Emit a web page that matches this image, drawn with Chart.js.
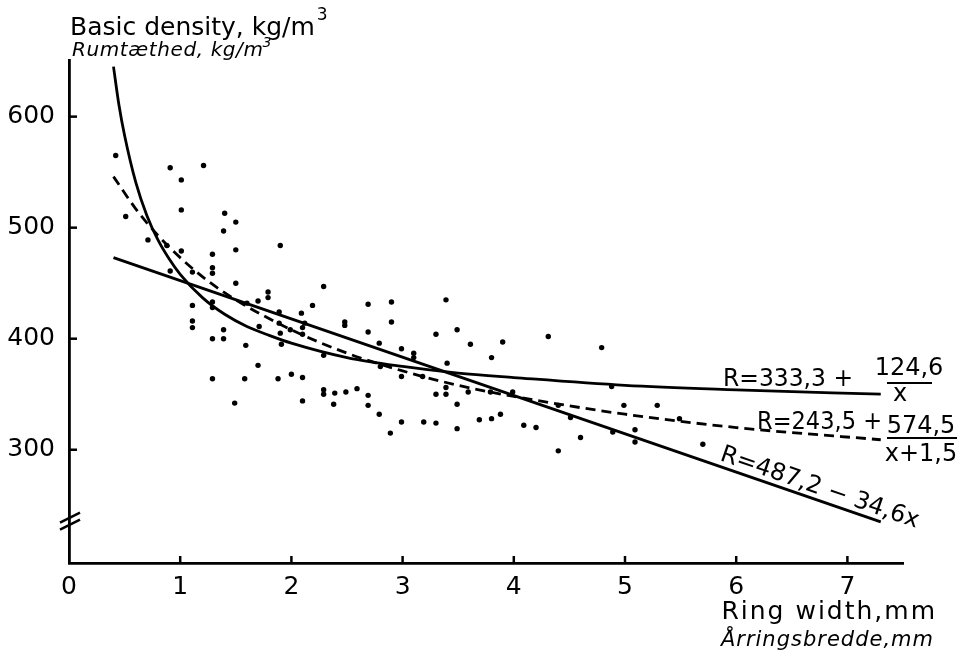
<!DOCTYPE html>
<html>
<head>
<meta charset="utf-8">
<script src="https://cdn.jsdelivr.net/npm/chart.js@4"></script>
<style>
  html, body { margin: 0; padding: 0; background: #fff; }
  canvas { display: block; }
</style>
</head>
<body>
<canvas id="density-chart" width="967" height="658"></canvas>
<script>
// measured samples: ring width (mm) vs basic density (kg/m3)
const SAMPLE_WIDTH = [
  0.42, 0.91, 1.21, 1.01, 0.51, 1.01, 1.40, 1.50, 1.39, 0.71, 0.88, 1.01, 1.29, 1.50, 1.90, 0.91, 1.11, 1.29, 1.29, 1.50,
  1.79, 1.79, 2.19, 1.11, 1.29, 1.29, 1.60, 1.70, 1.89, 2.09, 2.12, 1.11, 1.11, 1.39, 1.39, 1.29, 1.71, 1.89, 1.90, 1.91,
  1.99, 2.10, 1.59, 1.70, 1.29, 1.58, 1.88, 2.00, 2.10, 1.49, 2.10, 2.29, 2.69, 2.90, 3.39, 2.48, 2.48, 2.69, 2.90, 3.30,
  3.49, 3.61, 3.90, 4.31, 3.80, 3.40, 2.79, 2.99, 3.10, 3.10, 2.29, 2.80, 2.99, 3.18, 2.29, 2.29, 2.39, 2.49, 2.59, 2.69,
  2.69, 2.38, 2.79, 2.89, 2.99, 3.19, 3.30, 3.30, 3.39, 3.39, 3.49, 3.49, 3.59, 3.69, 3.80, 3.88, 3.79, 3.99, 4.09, 4.20,
  4.40, 4.40, 4.79, 4.88, 4.99, 5.29, 5.49, 4.51, 4.60, 5.09, 5.09, 5.70, 4.89, 2.10
];
const SAMPLE_DENSITY = [
  565, 554, 556, 543, 510, 516, 513, 505, 497, 489, 484, 479, 476, 480, 484, 461, 460, 464, 459, 450,
  442, 437, 430, 430, 433, 428, 432, 434, 424, 423, 414, 416, 410, 408, 400, 400, 411, 414, 405, 395,
  408, 404, 394, 376, 364, 364, 364, 368, 365, 342, 344, 447, 431, 433, 435, 415, 412, 406, 415, 404,
  408, 395, 397, 402, 383, 378, 396, 391, 387, 383, 385, 375, 366, 366, 354, 350, 351, 352, 355, 349,
  340, 341, 332, 315, 325, 325, 324, 350, 350, 356, 341, 319, 352, 327, 328, 332, 352, 352, 322, 320,
  299, 340, 392, 357, 340, 340, 328, 329, 311, 318, 307, 305, 316, 410
];

// fitted curves
const HYP_X = [0.4, 0.45, 0.5, 0.6, 0.7, 0.8, 0.9, 1.0, 1.2, 1.4, 1.6, 1.8, 2.0, 2.5, 3.0, 3.5, 4.0, 5.0, 6.0, 7.3];
const HYP_Y = [645, 610, 583, 541, 511, 489, 472, 458, 437, 422, 411, 403, 396, 383, 375, 369, 365, 358, 354, 350];
const DASH_X = [0.4, 0.6, 0.8, 1.0, 1.25, 1.5, 2.0, 2.5, 3.0, 3.5, 4.0, 5.0, 6.0, 7.3];
const DASH_Y = [546, 517, 493, 473, 452, 435, 408, 387, 371, 358, 348, 332, 320, 309];
const LIN_X = [0.4, 7.3];
const LIN_Y = [473, 235];

const X_TICKS = [0, 1, 2, 3, 4, 5, 6, 7];
const Y_TICKS = [300, 400, 500, 600];
const AXIS_BREAK = 238;

const FONT = "'DejaVu Sans', sans-serif";
Chart.defaults.font.family = FONT;
Chart.defaults.color = '#000';

const toPoints = (xs, ys) => xs.map((x, i) => ({ x, y: ys[i] }));

const curve = (xs, ys, dash) => ({
  type: 'line',
  data: toPoints(xs, ys),
  borderColor: '#000',
  borderWidth: 2.8,
  borderDash: dash,
  pointRadius: 0,
  fill: false,
  cubicInterpolationMode: 'monotone'
});

// returns the end x of the drawn text
const txt = (ctx, s, x, y, size, opts = {}) => {
  ctx.font = `${opts.italic ? 'italic ' : ''}${size}px ${FONT}`;
  ctx.textAlign = opts.align || 'left';
  ctx.letterSpacing = opts.spacing || '0px';
  if (opts.maxWidth) ctx.fillText(s, x, y, opts.maxWidth);
  else ctx.fillText(s, x, y);
  return x + ctx.measureText(s).width;
};

const line = (ctx, x1, y1, x2, y2) => {
  ctx.beginPath(); ctx.moveTo(x1, y1); ctx.lineTo(x2, y2); ctx.stroke();
};

const decor = {
  id: 'decor',
  afterDraw(chart) {
    const { ctx, chartArea: a, scales: { x, y } } = chart;
    ctx.save();
    ctx.strokeStyle = '#000';
    ctx.fillStyle = '#000';
    ctx.lineWidth = 2.5;
    ctx.setLineDash([]);

    // inward tick marks
    Y_TICKS.forEach(v => { const py = y.getPixelForValue(v); line(ctx, a.left, py, a.left + 8, py); });
    X_TICKS.slice(1).forEach(v => { const px = x.getPixelForValue(v); line(ctx, px, a.bottom, px, a.bottom - 7); });

    // axis break
    const pb = y.getPixelForValue(AXIS_BREAK);
    line(ctx, a.left - 9, pb + 4, a.left + 11, pb - 6);
    line(ctx, a.left - 9, pb + 11, a.left + 11, pb + 1);

    // axis titles
    let end = txt(ctx, 'Basic density, kg/m', 70, 35, 25);
    txt(ctx, '3', end + 2, 20, 17);
    end = txt(ctx, 'Rumtæthed, kg/m', 72, 56, 20, { italic: true, spacing: '0.6px' });
    txt(ctx, '3', end - 1, 47, 14, { italic: true });
    txt(ctx, 'Ring width,mm', 937, 619, 25, { align: 'right', spacing: '2px' });
    txt(ctx, 'Årringsbredde,mm', 934, 646, 21, { italic: true, align: 'right', spacing: '1px' });

    // equation labels
    ctx.lineWidth = 2;
    txt(ctx, 'R=333,3 +', 723, 386, 24, { maxWidth: 130 });
    txt(ctx, '124,6', 909, 375, 24, { align: 'center' });
    line(ctx, 887, 383, 932, 383);
    txt(ctx, 'x', 900, 401, 24, { align: 'center' });

    txt(ctx, 'R=243,5 +', 757, 429, 24, { maxWidth: 125 });
    txt(ctx, '574,5', 921, 433, 24, { align: 'center' });
    line(ctx, 887, 438, 957, 438);
    txt(ctx, 'x+1,5', 921, 461, 24, { align: 'center' });

    const p1 = { x: x.getPixelForValue(LIN_X[0]), y: y.getPixelForValue(LIN_Y[0]) };
    const p2 = { x: x.getPixelForValue(LIN_X[1]), y: y.getPixelForValue(LIN_Y[1]) };
    const ang = Math.atan2(p2.y - p1.y, p2.x - p1.x);
    ctx.save();
    ctx.translate(719, 460);
    ctx.rotate(ang);
    txt(ctx, 'R=487,2 − 34,6x', 0, 0, 24);
    ctx.restore();

    ctx.restore();
  }
};

new Chart(document.getElementById('density-chart'), {
  type: 'scatter',
  data: {
    datasets: [
      {
        data: toPoints(SAMPLE_WIDTH, SAMPLE_DENSITY),
        backgroundColor: '#000',
        borderColor: '#000',
        pointRadius: 2.7,
        pointBorderWidth: 0
      },
      curve(HYP_X, HYP_Y, []),
      curve(DASH_X, DASH_Y, [10, 6]),
      curve(LIN_X, LIN_Y, [])
    ]
  },
  options: {
    responsive: false,
    animation: false,
    devicePixelRatio: 1,
    layout: { padding: { left: 0, right: 64, top: 60, bottom: 0 } },
    plugins: { legend: { display: false }, tooltip: { enabled: false } },
    scales: {
      x: {
        type: 'linear',
        min: 0,
        max: 7.5,
        afterBuildTicks: s => { s.ticks = X_TICKS.map(v => ({ value: v })); },
        afterFit: s => { s.height = 95; },
        grid: { display: false, drawTicks: false },
        border: { display: true, color: '#000', width: 2.8 },
        ticks: { font: { size: 25 }, padding: 9, color: '#000', maxRotation: 0 }
      },
      y: {
        type: 'linear',
        min: 198,
        max: 651,
        afterBuildTicks: s => { s.ticks = Y_TICKS.map(v => ({ value: v })); },
        afterFit: s => { s.width = 69; },
        grid: { display: false, drawTicks: false },
        border: { display: true, color: '#000', width: 2.8 },
        ticks: { font: { size: 25 }, padding: 14, color: '#000' }
      }
    }
  },
  plugins: [decor]
});
</script>
</body>
</html>
